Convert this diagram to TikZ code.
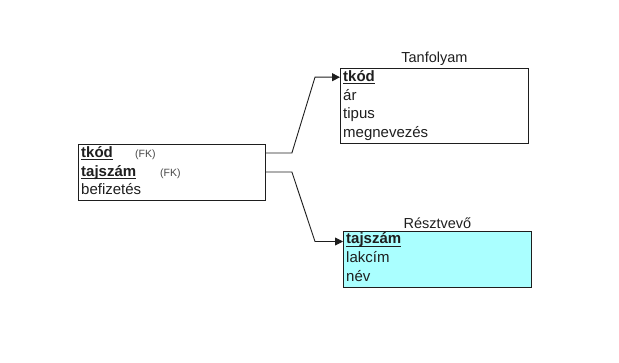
\documentclass[tikz,border=0pt]{standalone}
\usepackage{fontspec}
\setmainfont{Liberation Sans}
\usetikzlibrary{arrows.meta,calc}
\definecolor{ink}{RGB}{30,30,30}
\definecolor{fkgray}{RGB}{70,70,70}
\definecolor{keyfill}{RGB}{170,255,255}
\begin{document}
\begin{tikzpicture}[x=1pt,y=-1pt,
  tablebox/.style={draw=ink, line width=0.9pt, inner sep=0pt, anchor=north west,
                   minimum width=#1},
  rowtext/.style={anchor=base west, inner sep=0pt, text=ink, font=\fontsize{15}{17}\selectfont},
  keytext/.style={rowtext, font=\fontsize{15}{17}\selectfont\bfseries},
  fktext/.style={anchor=base west, inner sep=0pt, text=fkgray, font=\fontsize{10.5}{12}\selectfont},
  titletext/.style={anchor=south, inner sep=0pt, text=ink, font=\fontsize{14.5}{16}\selectfont},
  keyline/.style={draw=ink, line width=0.9pt},
  link/.style={draw=ink, line width=0.9pt, -{Triangle[length=8pt,width=8pt]}}]

\useasboundingbox (0,0) rectangle (619,363);

% Kapcsoló tábla (befizetés)
\node[tablebox=187pt, minimum height=56pt] (lbox) at (78,144) {};
\node[keytext] (lk1) at (81,157.5) {tkód};
\node[keytext] (lk2) at (81,176.2) {tajszám};
\node[rowtext] (lr3) at (81,194.9) {befizetés};
\node[fktext] (lfk1) at (135,157.5) {(FK)};
\node[fktext] (lfk2) at (160,176.2) {(FK)};
\draw[keyline] ([yshift=-2pt]lk1.base west) -- ([yshift=-2pt]lk1.base east);
\draw[keyline] ([yshift=-2pt]lk2.base west) -- ([yshift=-2pt]lk2.base east);

% Tanfolyam tábla
\node[tablebox=188pt, minimum height=75pt] (tbox) at (340,68) {};
\node[titletext] (ttitle) at ($(tbox.north)+(0,-2.5)$) {Tanfolyam};
\node[keytext] (tk1) at (343,81.4) {tkód};
\node[rowtext] (tr2) at (343,100.1) {ár};
\node[rowtext] (tr3) at (343,118.8) {tipus};
\node[rowtext] (tr4) at (343,137.5) {megnevezés};
\draw[keyline] ([yshift=-2pt]tk1.base west) -- ([yshift=-2pt]tk1.base east);

% Résztvevő tábla
\node[tablebox=188pt, minimum height=56pt, fill=keyfill] (rbox) at (343,231) {};
\node[titletext] (rtitle) at ($(rbox.north)+(0,-2.5)$) {Résztvevő};
\node[keytext] (rk1) at (346,244.0) {tajszám};
\node[rowtext] (rr2) at (346,262.7) {lakcím};
\node[rowtext] (rr3) at (346,281.4) {név};
\draw[keyline] ([yshift=-2pt]rk1.base west) -- ([yshift=-2pt]rk1.base east);

% Idegen kulcsok kapcsolatai, a kulcssorok közepén
\coordinate (s1) at ($(lk1.base -| lbox.east)+(0,-4.5)$);
\coordinate (e1) at ($(tk1.base -| tbox.west)+(0,-4.2)$);
\coordinate (s2) at ($(lk2.base -| lbox.east)+(0,-4.2)$);
\coordinate (e2) at ($(rk1.base -| rbox.west)+(0,-2.5)$);
\draw[link] (s1) -- ++(26,0) -- ($(e1)+(-25,0)$) -- (e1);
\draw[link] (s2) -- ++(26,0) -- ($(e2)+(-28,0)$) -- (e2);

\end{tikzpicture}
\end{document}
